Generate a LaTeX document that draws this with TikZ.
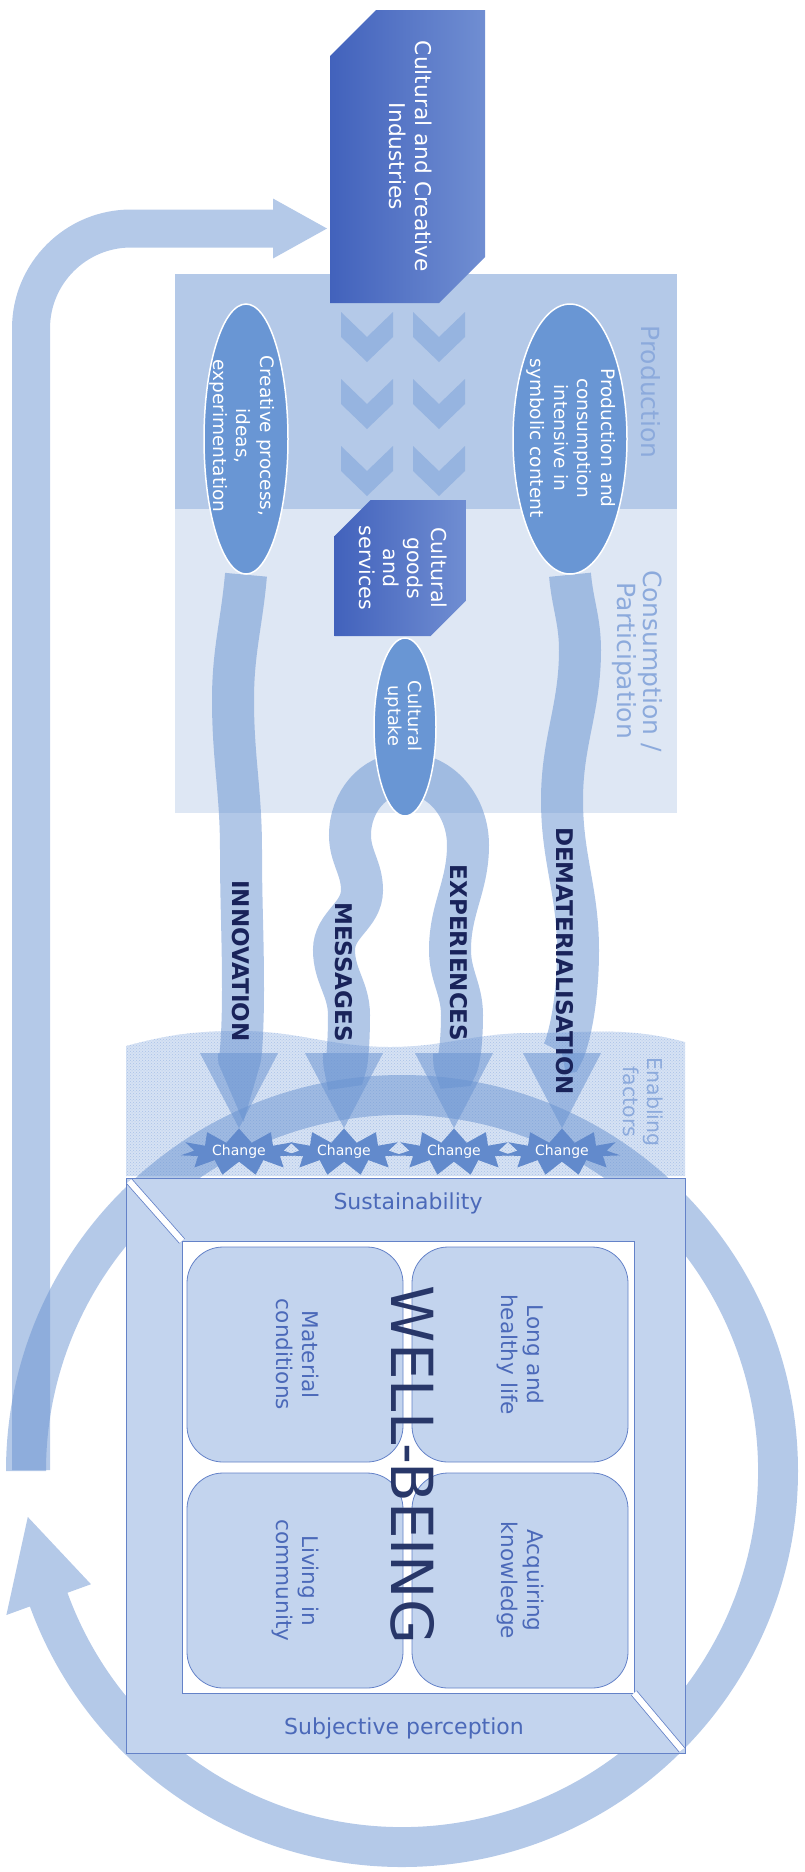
\documentclass[tikz,border=0pt]{standalone}
\usepackage{fontspec}
\setmainfont{DejaVu Sans}
\usepackage{graphicx}
\usetikzlibrary{shapes.geometric, shapes.misc, shapes.symbols, arrows.meta, patterns, calc}

\definecolor{boxdark}{RGB}{66,98,188}
\definecolor{boxlight}{RGB}{112,142,210}
\definecolor{ideafill}{RGB}{105,150,212}
\definecolor{prodband}{RGB}{180,201,232}
\definecolor{consband}{RGB}{222,231,244}
\definecolor{chevcol}{RGB}{150,180,224}
\definecolor{flowcol}{RGB}{105,147,209}
\definecolor{paletext}{RGB}{140,170,220}
\definecolor{navy}{RGB}{25,35,90}
\definecolor{starcol}{RGB}{98,138,204}
\definecolor{framefill}{RGB}{195,212,238}
\definecolor{framedraw}{RGB}{100,130,200}
\definecolor{wbtext}{RGB}{75,105,185}
\definecolor{wbtitle}{RGB}{40,55,105}
\definecolor{enablefill}{RGB}{214,226,244}
\definecolor{enabledots}{RGB}{170,194,231}

\newcommand{\vstack}[1]{\rotatebox{-90}{\begin{tabular}{@{}c@{}}#1\end{tabular}}}

\pgfdeclarelayer{back}
\pgfdeclarelayer{flows}
\pgfsetlayers{back,flows,main}

\begin{document}
\begin{tikzpicture}[%
    x=1pt, y=1pt,
    industry/.style = {chamfered rectangle, chamfered rectangle corners={north west, south east},
        left color=boxdark, right color=boxlight, text=white, inner sep=0pt},
    idea/.style = {ellipse, fill=ideafill, draw=white, line width=1.5pt, inner sep=0pt},
    vlabel/.style = {rotate=-90, align=center, inner sep=0pt},
    ideatext/.style = {vlabel, text=white, font=\fontsize{18.5}{23.5}\selectfont},
    stage/.style = {vlabel, text=paletext, font=\fontsize{25}{26}\selectfont},
    flow/.style = {draw=flowcol, opacity=0.52, line width=42pt,
        -{Triangle[width=78pt, length=75pt, line width=0pt]}},
    flowname/.style = {vlabel, text=navy, font=\fontsize{23}{24}\selectfont\bfseries},
    change/.style = {starburst, starburst points=11, starburst point height=14pt, random starburst=0,
        fill=starcol, text=white, inner sep=0pt, minimum width=118pt, minimum height=36pt,
        font=\fontsize{14}{15}\selectfont},
    wbarea/.style = {rectangle, rounded corners=36pt, fill=framefill, draw=framedraw, line width=0.8pt,
        minimum width=216pt, minimum height=215pt, text=wbtext, font=\fontsize{21.6}{26}\selectfont},
    frametext/.style = {text=wbtext, inner sep=0pt, font=\fontsize{22}{24}\selectfont},
    chevron/.style = {fill=chevcol},
    bevel/.style = {draw=framedraw, double=white, double distance=6pt, line width=0.8pt},
    feedback/.style = {draw=prodband, line width=38pt, rounded corners=100pt,
        -{Triangle[width=60pt, length=54pt, line width=0pt]}},
    ringband/.style = {fill=flowcol, opacity=0.5}
]
\useasboundingbox (0,0) rectangle (805,-1872);

% industries and goods
\node[industry, minimum width=155pt, minimum height=293pt,
      chamfered rectangle xsep=23pt, chamfered rectangle ysep=23pt,
      font=\fontsize{21.7}{26}\selectfont] (cci) at (407.5,-156.5) {\vstack{Cultural and Creative\\Industries}};
\node[industry, minimum width=129pt, minimum height=136pt,
      chamfered rectangle xsep=18pt, chamfered rectangle ysep=18pt,
      font=\fontsize{20.5}{24}\selectfont] (cgs) at (400.5,-568) {\vstack{Cultural\\goods\\and\\services}};

% production / consumption ellipses
\node[idea, minimum width=84pt, minimum height=270pt] (creative) at (246,-439) {};
\node[ideatext] (creative-t) at (242,-436) {Creative process,\\ideas,\\experimentation};
\node[idea, minimum width=114pt, minimum height=270pt] (symbolic) at (570,-439) {};
\node[ideatext] (symbolic-t) at (571,-438) {Production and\\consumption\\intensive in\\symbolic content};
\node[idea, minimum width=62pt, minimum height=178pt] (uptake) at (405,-727) {};
\node[ideatext, font=\fontsize{17.8}{20}\selectfont] (uptake-t) at (403,-716) {Cultural\\uptake};

\node[stage] (prod-l) at (651,-392) {Production};
\node[stage] (cons-l) at (637,-661) {Consumption /\\Participation};
\node[stage, font=\fontsize{20.5}{24}\selectfont] (enab-l) at (643,-1102) {Enabling\\factors};

% changes
\node[change] (chg1) at (239,-1152) {Change};
\node[change] (chg2) at (344,-1152) {Change};
\node[change] (chg3) at (454,-1152) {Change};
\node[change] (chg4) at (562,-1152) {Change};

\node[flowname] (innov) at (241,-961) {INNOVATION};
\node[flowname] (mess) at (344,-972) {MESSAGES};
\node[flowname] (exper) at (459,-953) {EXPERIENCES};
\node[flowname] (demat) at (565,-961) {DEMATERIALISATION};

% well-being
\node[frametext] (sust) at (408,-1203) {Sustainability};
\node[frametext] (subj) at (404,-1728) {Subjective perception};
\node[wbarea] (material) at (295,-1354.5) {\vstack{Material\\conditions}};
\node[wbarea] (health) at (520,-1354.5) {\vstack{Long and\\healthy life}};
\node[wbarea] (community) at (295,-1580.5) {\vstack{Living in\\community}};
\node[wbarea] (knowledge) at (520,-1580.5) {\vstack{Acquiring\\knowledge}};
\node[vlabel, text=wbtitle, font=\fontsize{58}{60}\selectfont] (wellbeing) at (413,-1465) {WELL-BEING};

\coordinate (fbtail) at (31,-1470);
\coordinate (fbhead) at (327,-228.5);
\coordinate (ring) at (402,-1471);
\coordinate (uptakefork) at ($(uptake.center)!0.52!(uptake.south)$);

\begin{pgfonlayer}{back}
\fill[prodband] (175,-274) rectangle (677,-509);
\fill[consband] (175,-509) rectangle (677,-813);
\foreach \cx in {367,439}
    \foreach \cy in {337,404,471}
        \fill[chevron, shift={(\cx,-\cy)}] (-26,25) -- (0,0) -- (26,25) -- (26,0) -- (0,-25) -- (-26,0) -- cycle;
\fill[enablefill, postaction={pattern=crosshatch dots, pattern color=enabledots}]
    (126,-1176) -- (126,-1046) to[out=15,in=180] (240,-1031) to[out=0,in=180] (390,-1047)
    to[out=0,in=180] (530,-1033) to[out=0,in=165] (685,-1042) -- (685,-1176) -- cycle;
\draw[feedback] (fbtail) |- (fbhead);
\fill[ringband, shift={(ring)}] (180:396) arc[start angle=180, end angle=-160, radius=396]
    -- (-160:421) -- (-173:377) -- (-160:331) -- (-160:356)
    arc[start angle=-160, end angle=180, radius=356] -- cycle;
\draw[framedraw, fill=framefill, line width=0.8pt] (126,-1178) rectangle (685,-1753);
\draw[framedraw, fill=white, line width=0.8pt] (182,-1241) rectangle (634,-1693);
\draw[bevel] (129,-1181) -- (182,-1241);
\draw[bevel] (682,-1750) -- (634,-1693);
\end{pgfonlayer}

\begin{pgfonlayer}{flows}
\draw[flow] (creative.south) to[out=-95,in=90] (233,-700) to[out=-90,in=90] (241,-850)
    to[out=-90,in=90] (243,-990) to[out=-90,in=90] (chg1.north);
\draw[flow] (uptakefork) to[out=180,in=90] (350,-835) to[out=-90,in=90] (362,-890)
    to[out=-90,in=90] (334,-950) to[out=-90,in=90] (349,-1015) to[out=-90,in=90] (chg2.north);
\draw[flow] (uptakefork) to[out=0,in=90] (468,-845) to[out=-90,in=90] (450,-950)
    to[out=-90,in=90] (462,-1015) to[out=-90,in=90] (chg3.north);
\draw[flow] (symbolic.south) to[out=-85,in=90] (580,-650) to[out=-90,in=90] (562,-800)
    to[out=-90,in=90] (578,-950) to[out=-90,in=90] (chg4.north);
\end{pgfonlayer}
\end{tikzpicture}
\end{document}
